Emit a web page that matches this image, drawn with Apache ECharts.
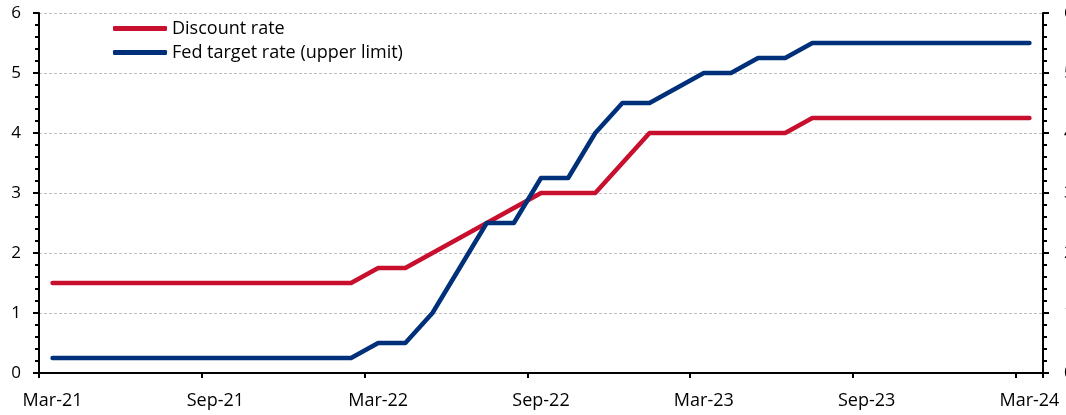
<!DOCTYPE html>
<html>
<head>
<meta charset="utf-8">
<script src="https://cdn.jsdelivr.net/npm/echarts@6/dist/echarts.min.js"></script>
<style>
html,body{margin:0;padding:0;background:#fff;}
#chart{width:1066px;height:415px;}
</style>
</head>
<body>
<div id="chart"></div>
<script>
var months = ["Mar-21","Apr-21","May-21","Jun-21","Jul-21","Aug-21","Sep-21","Oct-21","Nov-21","Dec-21","Jan-22","Feb-22",
  "Mar-22","Apr-22","May-22","Jun-22","Jul-22","Aug-22","Sep-22","Oct-22","Nov-22","Dec-22","Jan-23","Feb-23",
  "Mar-23","Apr-23","May-23","Jun-23","Jul-23","Aug-23","Sep-23","Oct-23","Nov-23","Dec-23","Jan-24","Feb-24","Mar-24"];
var discountRate = [1.5,1.5,1.5,1.5,1.5,1.5,1.5,1.5,1.5,1.5,1.5,1.5,
  1.75,1.75,2.0,2.25,2.5,2.75,3.0,3.0,3.0,3.5,4.0,4.0,
  4.0,4.0,4.0,4.0,4.25,4.25,4.25,4.25,4.25,4.25,4.25,4.25,4.25];
var fedTarget = [0.25,0.25,0.25,0.25,0.25,0.25,0.25,0.25,0.25,0.25,0.25,0.25,
  0.5,0.5,1.0,1.75,2.5,2.5,3.25,3.25,4.0,4.5,4.5,4.75,
  5.0,5.0,5.25,5.25,5.5,5.5,5.5,5.5,5.5,5.5,5.5,5.5,5.5];
var seriesNames = ["Discount rate","Fed target rate (upper limit)"];
var yTicks = {min:0, max:6, interval:1};

var FONT = "'Open Sans', sans-serif";
var chart = echarts.init(document.getElementById('chart'), null, {renderer:'canvas'});

function yAxisCfg(pos, labelMargin, showSplit){
  return {
    type:'value', position:pos, min:yTicks.min, max:yTicks.max, interval:yTicks.interval,
    axisLine:{show:true, lineStyle:{color:'#000', width:2}},
    axisTick:{show:true, inside:false, length:6, lineStyle:{color:'#000', width:2}},
    minorTick:{show:true, splitNumber:5, length:4, lineStyle:{color:'#000', width:2}},
    axisLabel:{color:'#000', fontFamily:FONT, fontSize:17, margin:labelMargin},
    splitLine:{show:showSplit, lineStyle:{color:'#BFBFBF', width:1, type:[3,2]}},
    minorSplitLine:{show:false}
  };
}

chart.setOption({
  animation:false,
  backgroundColor:'#fff',
  grid:{left:39, right:23, top:13, bottom:42, containLabel:false, outerBoundsMode:'none'},
  legend:{
    orient:'vertical', left:108, top:14.5,
    icon:'roundRect',
    itemWidth:54, itemHeight:5, itemGap:6,
    textStyle:{color:'#000', fontFamily:FONT, fontSize:18},
    data:seriesNames
  },
  xAxis:{
    type:'category', data:months, boundaryGap:true,
    axisLine:{show:true, onZero:false, lineStyle:{color:'#000', width:2}},
    axisTick:{show:true, interval:5, alignWithLabel:false, length:5, lineStyle:{color:'#000', width:2}},
    axisLabel:{interval:5, color:'#000', fontFamily:FONT, fontSize:18, margin:19},
    splitLine:{show:false}
  },
  yAxis:[ yAxisCfg('left', 18, true), yAxisCfg('right', 21, false) ],
  series:[
    {name:seriesNames[0], type:'line', data:discountRate, symbol:'none',
     lineStyle:{color:'#C8102E', width:4.5, cap:'round', join:'round'}, itemStyle:{color:'#C8102E'}, z:3},
    {name:seriesNames[1], type:'line', data:fedTarget, symbol:'none',
     lineStyle:{color:'#00307A', width:4.5, cap:'round', join:'round'}, itemStyle:{color:'#00307A'}, z:4}
  ]
});
</script>
</body>
</html>
